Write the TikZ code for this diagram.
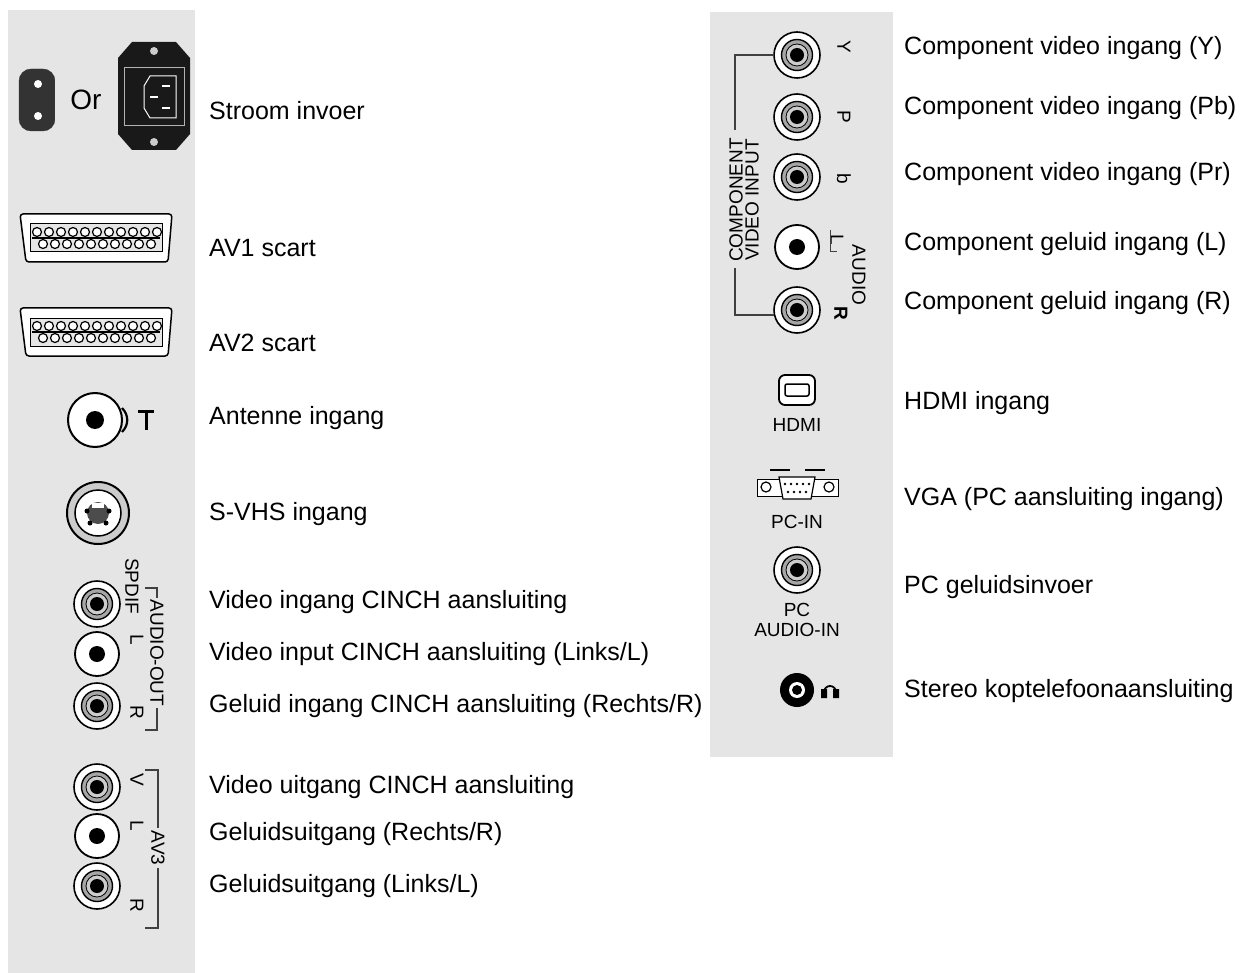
\documentclass[tikz,border=0pt]{standalone}
\usepackage{fontspec}
\setmainfont{Liberation Sans}
\begin{document}
\begin{tikzpicture}[x=1pt,y=-1pt,
 lbl/.style={anchor=west,font=\fontsize{25}{28}\selectfont,inner sep=0},
 sm/.style={font=\fontsize{19}{21}\selectfont,inner sep=0},
 rot/.style={font=\fontsize{19}{21}\selectfont,inner sep=0,rotate=-90},
 brk/.style={draw=black!75,line width=1.2pt}]
\useasboundingbox (0,0) rectangle (1257,973);
\fill[white] (0,0) rectangle (1257,973);
\fill[black!10] (8,10) rectangle (195,973);
\fill[black!10] (710,12) rectangle (893,757);
\tikzset{rca/.pic={\draw[line width=1.6pt,fill=white] (0,0) circle (23);
 \draw[line width=1.4pt,fill=black!35] (0,0) circle (15.5);
 \draw[line width=0.8pt,fill=black!20] (0,0) circle (11);
 \fill (0,0) circle (7);},
 rcaw/.pic={\draw[line width=1.8pt,fill=white] (0,0) circle (22);
 \fill (0,0) circle (8);}}
% power small
\node[draw=black!80,fill=black!80,rounded corners=12pt,minimum width=36pt,minimum height=62pt,inner sep=0] (p1) at (37,100) {};
\fill[black!10] (55,80) rectangle (60,120);
\fill[white] (38,84) circle (4) (38,116) circle (4);
\node[font=\fontsize{28}{30}\rmfamily\selectfont] (or) at (86,100) {Or};
\fill[black!90] (132,42) -- (176,42) -- (190,58) -- (190,134) -- (176,150) -- (132,150) -- (118,134) -- (118,58) -- cycle;
\draw[white!70!black,line width=1pt] (124,68) rectangle (184,126);
\draw[white,line width=1pt] (150,76) -- (176,76) -- (176,118) -- (150,118) -- (144,108) -- (144,86) -- cycle;
\draw[white,line width=1.5pt] (162,86)--(170,86) (150,97)--(158,97) (162,108)--(170,108);
\fill[black!20] (154,51) circle (4) (154,142) circle (4);
\node[lbl] (t1) at (209,111) {Stroom invoer};
% scarts
\foreach \y in {238,332}{
 \draw[line width=1.5pt,fill=white,rounded corners=3pt] (20,\y-24) -- (172,\y-24) -- (168,\y+24) -- (26,\y+24) -- cycle;
 \draw[line width=1pt,fill=black!10] (30,\y-14) rectangle (162,\y+14);
 \foreach \i in {0,...,10}{\draw[line width=1.2pt,fill=white] (37+\i*12,\y-6) circle (4.5);}
 \foreach \i in {0,...,9}{\draw[line width=1.2pt,fill=white] (43+\i*12,\y+6) circle (4.5);}
 \draw[line width=1.4pt] (32,\y) -- (160,\y);
}
\node[lbl] at (209,248) {AV1 scart};
\node[lbl] at (209,343) {AV2 scart};
% antenna
\draw[line width=2pt,fill=white] (95,420) circle (27);
\fill (95,420) circle (9);
\draw[line width=3pt] (138,411) -- (154,411) (146,411) -- (146,430);
\draw[line width=2.2pt] (122,408) .. controls (129,415) and (129,425) .. (122,432);
\node[lbl] at (209,418) {Antenne ingang};
% s-vhs
\draw[line width=2pt,fill=black!20] (98,513) circle (31);
\draw[line width=1.5pt,fill=white] (98,513) circle (23);
\fill[black!70] (98,513) circle (11);
\fill[white] (92,503) rectangle (104,508);
\foreach \p in {(87,511),(109,511),(90,523),(106,523)}{\fill \p circle (2.5);}
\node[lbl] at (209,514) {S-VHS ingang};
% left RCA group
\pic at (97,604) {rca}; \pic at (97,654) {rcaw}; \pic at (97,706) {rca};
\pic at (97,787) {rca}; \pic at (97,836) {rcaw}; \pic at (97,886) {rca};
\node[rot] at (132,586) {SPDIF};
\node[rot] at (137,640) {L};
\node[rot] at (137,712) {R};
\draw[brk] (145,588) -- (157,588) -- (157,598);
\node[rot] at (157,653) {AUDIO-OUT};
\draw[brk] (157,708) -- (157,730) -- (145,730);
\node[rot] at (137,780) {V};
\node[rot] at (137,826) {L};
\node[rot] at (137,905) {R};
\draw[brk] (145,770) -- (158,770) -- (158,828);
\node[rot] at (158,848) {AV3};
\draw[brk] (158,868) -- (158,928) -- (145,928);
\node[lbl] at (209,602) {Video ingang CINCH aansluiting};
\node[lbl] at (209,654) {Video input CINCH aansluiting (Links/L)};
\node[lbl] at (209,706) {Geluid ingang CINCH aansluiting (Rechts/R)};
\node[lbl] at (209,787) {Video uitgang CINCH aansluiting};
\node[lbl] at (209,834) {Geluidsuitgang (Rechts/R)};
\node[lbl] at (209,886) {Geluidsuitgang (Links/L)};
% right RCA group
\pic at (797,55) {rca}; \pic at (797,117) {rca}; \pic at (797,177) {rca};
\pic at (797,247) {rcaw}; \pic at (797,310) {rca};
\node[rot] at (844,47) {Y};
\node[rot] at (844,117) {P};
\node[rot] at (844,179) {b};
\node[rot] at (837,240) {L};
\draw[brk,line width=0.9pt] (830,230) -- (830,251) -- (837,251);
\node[rot,font=\bfseries\fontsize{19}{21}\selectfont] at (841,313) {R};
\node[rot] at (859,275) {AUDIO};
\draw[brk] (774,55) -- (735,55) -- (735,130);
\node[font=\fontsize{19}{16}\selectfont,rotate=90,align=center,inner sep=0] at (744,200) {COMPONENT\\VIDEO INPUT};
\draw[brk] (735,268) -- (735,315) -- (774,315);
% HDMI
\draw[line width=1.8pt,rounded corners=6pt,fill=white] (779,375) rectangle (815,405);
\draw[line width=1.5pt,rounded corners=2pt] (785,384) rectangle (809,396);
\node[sm] at (797,425) {HDMI};
% VGA
\draw[line width=1pt,fill=white] (757,479) -- (838,479) -- (838,496) -- (757,496) -- cycle;
\draw[line width=1.2pt,fill=white] (779,477) -- (815,477) -- (811,499) -- (783,499) -- cycle;
\foreach \i in {0,...,4}{\fill (785+\i*6,484) circle (1.3);}
\foreach \i in {0,...,3}{\fill (788+\i*6,492) circle (1.3);}
\draw[line width=1.2pt] (766,487) circle (5) (829,487) circle (5);
\draw[line width=2.5pt] (770,470)--(790,470) (805,470)--(825,470);
\node[sm] at (797,522) {PC-IN};
\pic at (797,570) {rca};
\node[sm,align=center] at (797,620) {PC\\[-1pt]AUDIO-IN};
% headphone
\fill (797,690) circle (17);
\fill[white] (797,690) circle (8);
\fill (797,690) circle (5);
\draw[line width=1.8pt] (824,692) arc (180:360:6);
\fill (821,689) rectangle (827,698) (833,689) rectangle (839,698);
\node[lbl] at (904,48) {Component video ingang (Y)};
\node[lbl] at (904,108) {Component video ingang (Pb)};
\node[lbl] at (904,174) {Component video ingang (Pr)};
\node[lbl] at (904,244) {Component geluid ingang (L)};
\node[lbl] at (904,303) {Component geluid ingang (R)};
\node[lbl] at (904,403) {HDMI ingang};
\node[lbl] at (904,499) {VGA (PC aansluiting ingang)};
\node[lbl] at (904,587) {PC geluidsinvoer};
\node[lbl] at (904,691) {Stereo koptelefoonaansluiting};
\end{tikzpicture}
\end{document}
